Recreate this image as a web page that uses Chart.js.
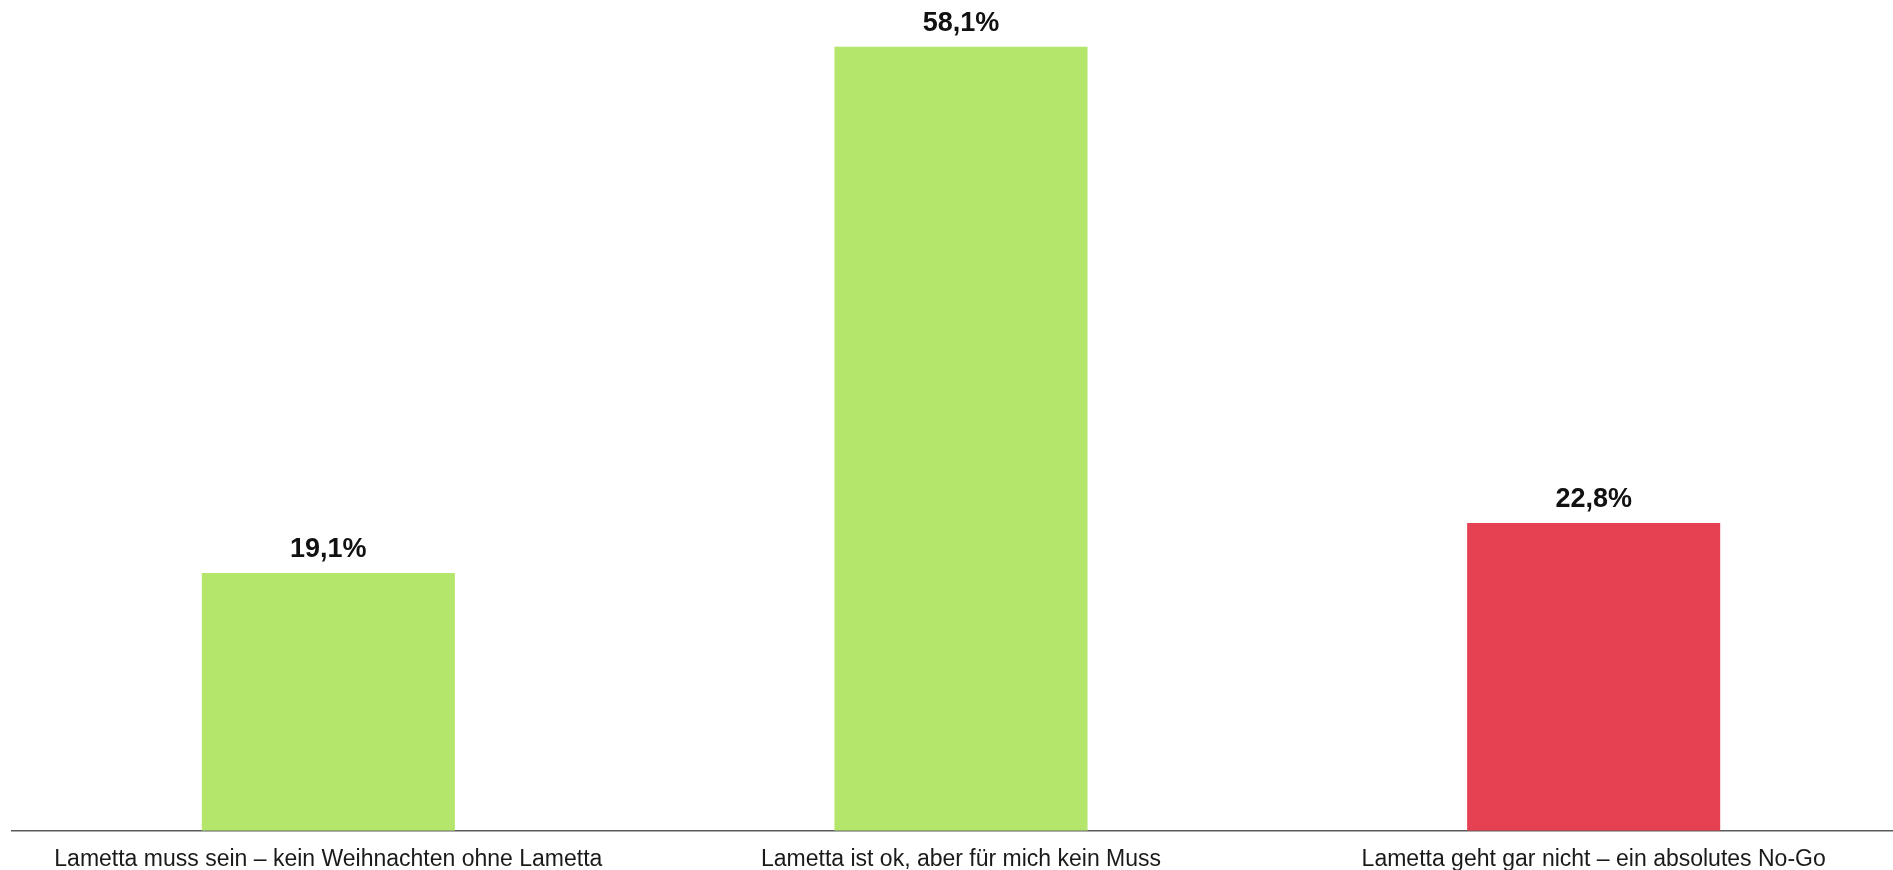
<!DOCTYPE html>
<html>
<head>
<meta charset="utf-8">
<script src="https://cdn.jsdelivr.net/npm/chart.js@4.4.1/dist/chart.umd.min.js"></script>
<style>
  html, body { margin: 0; padding: 0; background: #ffffff; overflow: hidden; }
  #wrap { position: relative; width: 1910px; height: 870px; }
</style>
</head>
<body>
<div id="wrap"><canvas id="c"></canvas></div>
<script>
const categories = [
  "Lametta muss sein – kein Weihnachten ohne Lametta",
  "Lametta ist ok, aber für mich kein Muss",
  "Lametta geht gar nicht – ein absolutes No-Go"
];
const values = [19.1, 58.1, 22.8];
const barColors = ["#b3e66a", "#b3e66a", "#e64152"];

const valueLabels = {
  id: 'valueLabels',
  afterDatasetsDraw(chart) {
    const ctx = chart.ctx;
    const meta = chart.getDatasetMeta(0);
    ctx.save();
    ctx.font = "bold 27px 'Liberation Sans', Arial, sans-serif";
    ctx.fillStyle = "#111111";
    ctx.textAlign = "center";
    ctx.textBaseline = "alphabetic";
    meta.data.forEach((bar, i) => {
      const txt = values[i].toFixed(1).replace('.', ',') + '%';
      ctx.fillText(txt, bar.x, bar.y - 16);
    });
    ctx.restore();
  }
};

new Chart(document.getElementById('c'), {
  type: 'bar',
  data: {
    labels: categories,
    datasets: [{
      data: values,
      backgroundColor: barColors,
      borderWidth: 0,
      barPercentage: 0.4,
      categoryPercentage: 1.0
    }]
  },
  options: {
    responsive: true,
    maintainAspectRatio: false,
    animation: false,
    layout: { padding: { left: 12, right: 0, top: 21, bottom: 0 } },
    plugins: { legend: { display: false }, tooltip: { enabled: false } },
    scales: {
      x: {
        grid: { display: false, drawTicks: false },
        border: { display: true, color: '#5a5a5a', width: 1.5 },
        afterFit(scale) { scale.height = 39.3; },
        ticks: {
          color: '#1a1a1a',
          padding: 15,
          maxRotation: 0,
          autoSkip: false,
          font: { family: "'Liberation Sans', Arial, sans-serif", size: 23 }
        }
      },
      y: {
        display: false,
        min: 0,
        max: 60
      }
    }
  },
  plugins: [valueLabels]
});
</script>
</body>
</html>
